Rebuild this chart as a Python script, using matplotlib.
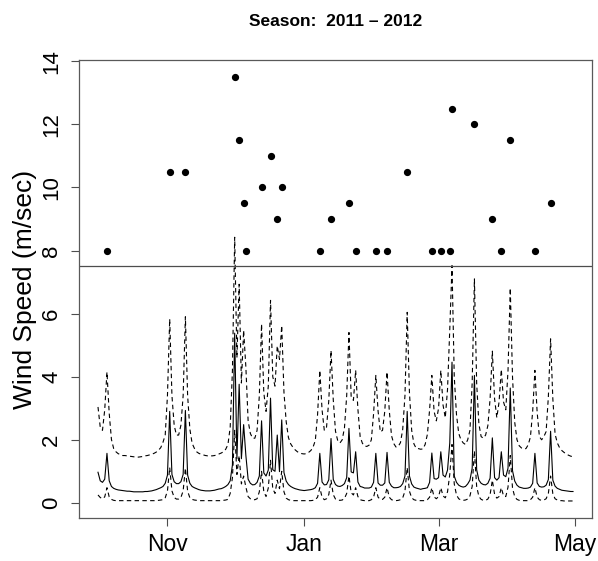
import matplotlib
matplotlib.use("Agg")
import matplotlib.pyplot as plt
import matplotlib.dates as mdates
import pandas as pd

plt.rcParams['font.family'] = ['Liberation Sans', 'DejaVu Sans']

# wind events above the threshold
event_dates = ["2011-10-05", "2011-11-02", "2011-11-09", "2011-12-01", "2011-12-03",
               "2011-12-05", "2011-12-06", "2011-12-13", "2011-12-17", "2011-12-20",
               "2011-12-22", "2012-01-08", "2012-01-13", "2012-01-21", "2012-01-24",
               "2012-02-02", "2012-02-07", "2012-02-16", "2012-02-27", "2012-03-02",
               "2012-03-06", "2012-03-07", "2012-03-17", "2012-03-25", "2012-03-29",
               "2012-04-02", "2012-04-13", "2012-04-20"]
event_speed = [8, 10.5, 10.5, 13.5, 11.5, 9.5, 8, 10, 11, 9, 10, 8, 9, 9.5, 8,
               8, 8, 10.5, 8, 8, 8, 12.5, 12, 9, 8, 11.5, 8, 9.5]

# daily curves, 1 Oct 2011 .. 30 Apr 2012
days = pd.date_range("2011-10-01", "2012-04-30", freq="D")
median_speed = [
    0.97, 0.70, 0.65, 0.75, 1.57, 0.70, 0.52, 0.46, 0.43, 0.41,
    0.40, 0.39, 0.38, 0.37, 0.37, 0.36, 0.35, 0.35, 0.35, 0.35,
    0.35, 0.36, 0.36, 0.37, 0.38, 0.40, 0.42, 0.45, 0.48, 0.52,
    0.62, 0.88, 2.90, 0.90, 0.67, 0.61, 0.61, 0.67, 0.90, 2.93,
    0.88, 0.62, 0.52, 0.48, 0.45, 0.42, 0.40, 0.39, 0.38, 0.38,
    0.38, 0.39, 0.40, 0.42, 0.44, 0.45, 0.48, 0.52, 0.58, 0.70,
    1.20, 5.38, 1.40, 3.76, 1.40, 2.48, 1.50, 0.75, 0.62, 0.57,
    0.58, 0.65, 0.85, 2.60, 0.95, 0.85, 1.04, 3.32, 1.05, 1.00,
    2.15, 0.99, 2.63, 0.96, 0.69, 0.58, 0.52, 0.48, 0.45, 0.43,
    0.41, 0.40, 0.39, 0.40, 0.41, 0.42, 0.44, 0.48, 0.62, 1.57,
    0.66, 0.57, 0.58, 0.73, 2.04, 0.74, 0.58, 0.53, 0.52, 0.55,
    0.61, 0.80, 2.36, 0.98, 0.95, 1.62, 0.66, 0.52, 0.50, 0.47,
    0.47, 0.47, 0.50, 0.65, 1.57, 0.63, 0.56, 0.56, 0.63, 1.60,
    0.65, 0.53, 0.48, 0.48, 0.49, 0.52, 0.61, 0.85, 2.90, 0.85,
    0.60, 0.50, 0.47, 0.45, 0.43, 0.45, 0.46, 0.48, 0.65, 1.58,
    0.77, 0.75, 0.80, 1.62, 0.88, 0.82, 1.04, 1.90, 4.46, 0.85,
    0.65, 0.56, 0.52, 0.50, 0.52, 0.60, 0.72, 1.10, 4.04, 1.05,
    0.72, 0.62, 0.58, 0.57, 0.62, 0.78, 2.06, 0.80, 0.72, 0.80,
    1.62, 0.88, 0.83, 1.10, 3.64, 1.02, 0.69, 0.56, 0.50, 0.48,
    0.46, 0.46, 0.47, 0.50, 0.62, 1.57, 0.63, 0.52, 0.50, 0.51,
    0.56, 0.74, 2.27, 0.72, 0.53, 0.46, 0.43, 0.40, 0.39, 0.38,
    0.37, 0.36, 0.36]
upper_speed = [
    3.04, 2.40, 2.30, 2.95, 4.15, 2.84, 2.01, 1.72, 1.62, 1.56,
    1.53, 1.50, 1.50, 1.49, 1.48, 1.47, 1.46, 1.46, 1.45, 1.46,
    1.47, 1.49, 1.50, 1.52, 1.54, 1.57, 1.61, 1.67, 1.75, 1.92,
    2.15, 3.40, 5.83, 3.40, 2.46, 2.15, 2.15, 2.46, 3.40, 5.90,
    3.40, 2.34, 1.89, 1.73, 1.62, 1.57, 1.54, 1.52, 1.50, 1.49,
    1.49, 1.49, 1.50, 1.52, 1.55, 1.58, 1.62, 1.70, 1.85, 2.40,
    4.20, 8.42, 4.60, 6.93, 3.80, 5.47, 4.30, 2.60, 2.20, 2.05,
    2.05, 2.30, 3.40, 5.67, 3.50, 2.90, 3.70, 6.42, 4.00, 3.70,
    4.98, 4.55, 5.62, 3.50, 2.57, 2.07, 1.87, 1.76, 1.68, 1.62,
    1.58, 1.56, 1.55, 1.56, 1.60, 1.66, 1.77, 1.98, 2.80, 4.20,
    2.95, 2.30, 2.40, 3.24, 4.83, 3.27, 2.27, 1.97, 1.90, 2.00,
    2.38, 3.40, 5.40, 3.35, 3.25, 4.20, 2.97, 2.10, 1.89, 1.80,
    1.79, 1.83, 2.00, 2.83, 4.04, 2.91, 2.25, 2.30, 2.91, 4.15,
    2.93, 2.13, 1.88, 1.77, 1.79, 1.91, 2.33, 3.40, 6.04, 3.50,
    2.30, 1.87, 1.73, 1.72, 1.70, 1.71, 1.85, 2.17, 2.95, 4.04,
    2.90, 2.60, 3.00, 4.20, 3.10, 2.70, 3.60, 5.50, 7.52, 4.00,
    2.80, 2.20, 2.00, 1.90, 1.85, 2.00, 2.30, 3.80, 7.10, 3.80,
    2.50, 2.10, 2.05, 2.15, 2.45, 3.30, 4.81, 3.30, 2.70, 3.20,
    4.23, 3.20, 2.95, 4.20, 6.81, 4.00, 2.55, 2.00, 1.81, 1.74,
    1.71, 1.72, 1.84, 2.09, 2.90, 4.20, 2.87, 2.10, 2.00, 2.10,
    2.26, 3.36, 5.20, 3.30, 2.18, 1.90, 1.75, 1.66, 1.60, 1.55,
    1.51, 1.48, 1.46]
lower_speed = [
    0.25, 0.17, 0.13, 0.19, 0.48, 0.19, 0.11, 0.08, 0.07, 0.07,
    0.07, 0.07, 0.07, 0.07, 0.07, 0.07, 0.07, 0.07, 0.07, 0.07,
    0.07, 0.07, 0.07, 0.07, 0.07, 0.07, 0.07, 0.08, 0.09, 0.10,
    0.16, 0.38, 1.12, 0.38, 0.17, 0.12, 0.12, 0.17, 0.38, 1.10,
    0.37, 0.16, 0.11, 0.09, 0.08, 0.07, 0.07, 0.07, 0.07, 0.07,
    0.07, 0.07, 0.07, 0.07, 0.07, 0.07, 0.08, 0.09, 0.11, 0.30,
    0.80, 2.30, 0.90, 1.50, 0.60, 0.85, 0.50, 0.20, 0.13, 0.10,
    0.10, 0.13, 0.35, 1.00, 0.36, 0.20, 0.47, 1.35, 0.45, 0.30,
    0.72, 0.45, 1.00, 0.35, 0.15, 0.10, 0.08, 0.07, 0.07, 0.07,
    0.07, 0.07, 0.07, 0.07, 0.07, 0.07, 0.08, 0.10, 0.18, 0.48,
    0.18, 0.10, 0.13, 0.26, 0.72, 0.26, 0.12, 0.09, 0.08, 0.09,
    0.14, 0.30, 0.85, 0.32, 0.25, 0.48, 0.20, 0.10, 0.08, 0.07,
    0.07, 0.07, 0.10, 0.18, 0.48, 0.18, 0.11, 0.11, 0.18, 0.48,
    0.18, 0.10, 0.08, 0.07, 0.08, 0.10, 0.16, 0.37, 1.12, 0.37,
    0.16, 0.10, 0.08, 0.07, 0.07, 0.07, 0.07, 0.10, 0.18, 0.48,
    0.19, 0.13, 0.20, 0.48, 0.22, 0.16, 0.35, 0.90, 1.85, 0.60,
    0.25, 0.13, 0.09, 0.08, 0.09, 0.12, 0.22, 0.52, 1.65, 0.52,
    0.20, 0.11, 0.08, 0.08, 0.12, 0.26, 0.72, 0.27, 0.15, 0.20,
    0.48, 0.22, 0.20, 0.50, 1.50, 0.47, 0.19, 0.11, 0.08, 0.07,
    0.07, 0.07, 0.07, 0.10, 0.18, 0.48, 0.18, 0.10, 0.08, 0.09,
    0.13, 0.30, 0.85, 0.29, 0.13, 0.09, 0.07, 0.07, 0.06, 0.06,
    0.06, 0.06, 0.06]

threshold = 7.5
month_ticks = ["2011-11-01", "2012-01-01", "2012-03-01", "2012-05-01"]
month_labels = ["Nov", "Jan", "Mar", "May"]
title = "Season:  2011 \u2013 2012"

assert len(median_speed) == len(days) == len(upper_speed) == len(lower_speed)

fig = plt.figure(figsize=(5.98, 5.61), dpi=100)
ax = fig.add_axes([79 / 598, 43 / 561, 513 / 598, 458 / 561])

dash = (0, (4, 3))
ax.plot(days, median_speed, color='black', lw=0.8)
ax.plot(days, upper_speed, color='black', lw=0.8, linestyle=dash)
ax.plot(days, lower_speed, color='black', lw=0.8, linestyle=dash)
ax.plot(pd.to_datetime(event_dates), event_speed, 'o', color='black', ms=4.2)
ax.axhline(threshold, color='0.3', lw=0.9)

# R-style 4% padding
span = (days[-1] - days[0]) * 0.04
ax.set_xlim(days[0] - span, days[-1] + span)
ax.set_ylim(-0.48, 14.04)

ax.set_xticks(pd.to_datetime(month_ticks))
ax.set_xticklabels(month_labels, fontsize=16.5)
ax.set_yticks(range(0, 15, 2))
ax.set_yticklabels([str(v) for v in range(0, 15, 2)], fontsize=16,
                   rotation=90, va='center')
ax.tick_params(direction='out', length=6, width=0.8, color='0.3', pad=5)
ax.tick_params(axis='y', pad=6)
for sp in ax.spines.values():
    sp.set_color('0.35')
    sp.set_linewidth(0.9)

ax.set_ylabel("Wind Speed (m/sec)", fontsize=19)
ax.yaxis.set_label_coords(-0.082, 0.5)
fig.text((79 + 592) / 2 / 598, 1 - 22 / 561, title, fontsize=12.5,
         fontweight='bold', ha='center', va='center')

fig.savefig("out.png", dpi=100)
